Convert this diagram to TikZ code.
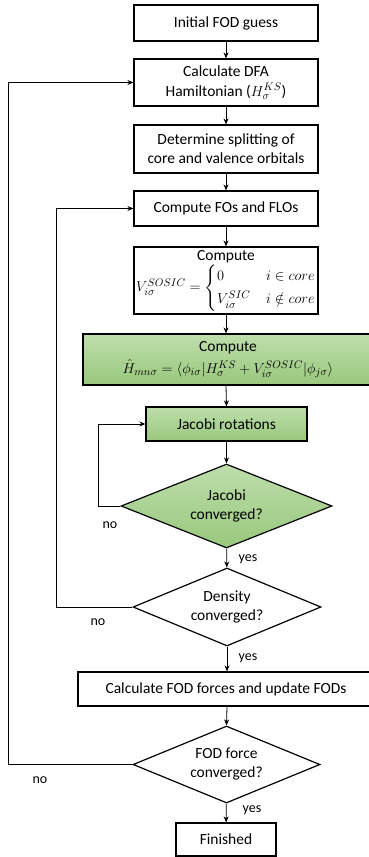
\documentclass[tikz,border=0pt]{standalone}
\usepackage{fontspec}
\setmainfont{Carlito}
\usepackage{amsmath,amssymb}
\usetikzlibrary{shapes.geometric,arrows.meta}
\definecolor{gtop}{RGB}{190,222,172}
\definecolor{gbot}{RGB}{152,200,124}
\begin{document}
\begin{tikzpicture}[x=1pt,y=-1pt,
  font=\fontsize{15.5}{19}\selectfont,
  box/.style={draw, line width=1.2pt, fill=white, align=center, inner sep=0pt},
  greenbox/.style={draw, line width=1.2pt, top color=gtop, bottom color=gbot, align=center, inner sep=0pt},
  dia/.style={draw, line width=1.2pt, diamond, align=center, inner sep=0pt, fill=white},
  conn/.style={line width=0.8pt, -{Stealth[length=6pt,width=5pt]}},
  lab/.style={font=\fontsize{14}{16}\selectfont}]
\useasboundingbox (0,0) rectangle (369,857);
\node[box, minimum width=184pt, minimum height=36pt] (b1) at (226,23) {Initial FOD guess};
\node[box, minimum width=184pt, minimum height=47pt] (b2) at (226,82.5) {Calculate DFA\\[1pt]Hamiltonian ($H_\sigma^{KS}$)};
\node[box, minimum width=184pt, minimum height=48pt] (b3) at (226,149) {Determine splitting of\\core and valence orbitals};
\node[box, minimum width=184pt, minimum height=35pt] (b4) at (226,208.5) {Compute FOs and FLOs};
\node[box, minimum width=184pt, minimum height=67pt] (b5) at (226,280.5) {Compute\\[1pt]$V_{i\sigma}^{SOSIC}=\begin{cases}0 & i\in core\\ V_{i\sigma}^{SIC} & i\notin core\end{cases}$};
\node[greenbox, minimum width=290pt, minimum height=51pt] (b6) at (228,359.5) {Compute\\[3pt]$\hat H_{mn\sigma}=\langle\phi_{i\sigma}|H_\sigma^{KS}+V_{i\sigma}^{SOSIC}|\phi_{j\sigma}\rangle$};
\node[greenbox, minimum width=161pt, minimum height=34pt] (b7) at (226.5,424) {Jacobi rotations};
\node[dia, top color=gtop, bottom color=gbot, minimum width=211pt, minimum height=84pt, aspect=2.5] (d1) at (226.5,506) {Jacobi\\converged?};
\node[dia, minimum width=188pt, minimum height=78pt, aspect=2.4] (d2) at (227,607) {Density\\converged?};
\node[box, minimum width=296pt, minimum height=34pt] (b8) at (226,689) {Calculate FOD forces and update FODs};
\node[dia, minimum width=187pt, minimum height=77pt, aspect=2.4] (d3) at (226.5,764.5) {FOD force\\converged?};
\node[box, minimum width=100pt, minimum height=33pt] (b9) at (226,839.5) {Finished};

\coordinate (j1) at (98,506);
\coordinate (j2) at (98,424);
\coordinate (k1) at (56,607);
\coordinate (k2) at (56,208.5);
\coordinate (m1) at (8,764.5);
\coordinate (m2) at (8,82.5);

\draw[conn] (b1) -- (b2);
\draw[conn] (b2) -- (b3);
\draw[conn] (b3) -- (b4);
\draw[conn] (b4) -- (b5);
\draw[conn] (b5.south) -- (b5.south |- b6.north);
\draw[conn] (b5.south |- b6.south) -- (b7.north);
\draw[conn] (b7) -- (d1);
\draw[conn] (d1) -- (d2);
\draw[conn] (d2.south) -- (d2.south |- b8.north);
\draw[conn] (d2.south |- b8.south) -- (d3.north);
\draw[conn] (d3) -- (b9);
\draw[conn] (d1.west) -- (j1) -- (j2) -- (b7.west);
\draw[conn] (d2.west) -- (k1) -- (k2) -- (b4.west);
\draw[conn] (d3.west) -- (m1) -- (m2) -- (b2.west);

\node[lab] (n1) at (110,525) {no};
\node[lab] (y1) at (248,559) {yes};
\node[lab] (n2) at (98,622) {no};
\node[lab] (y2) at (248,658) {yes};
\node[lab] (n3) at (40,780) {no};
\node[lab] (y3) at (252,810) {yes};
\end{tikzpicture}
\end{document}
